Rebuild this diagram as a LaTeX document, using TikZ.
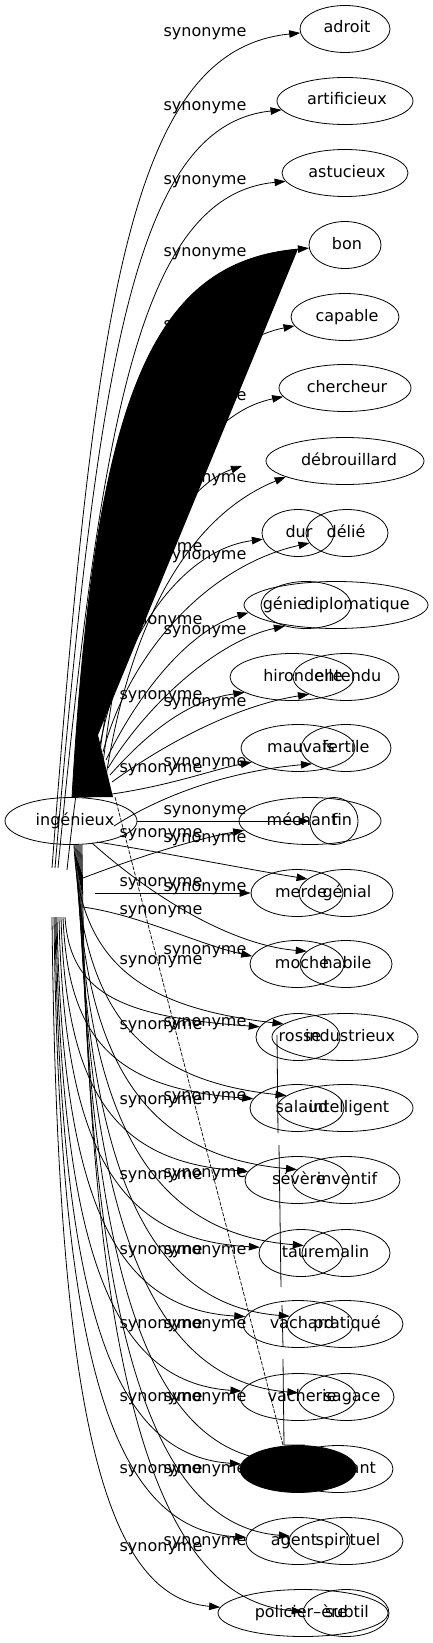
\documentclass[tikz,border=0pt]{standalone}
\usepackage{fontspec}
\setmainfont{DejaVu Sans}
\usetikzlibrary{arrows.meta,shapes.geometric}
\newcommand\gfont{\fontsize{16pt}{19pt}\selectfont}
\tikzset{
  ell/.style={draw,ellipse,inner sep=0pt,line width=0.8pt,minimum height=47pt},
  lbl/.style={inner sep=0pt,font=\gfont,text height=11.5pt,text depth=3.5pt},
  edge/.style={draw,line width=0.8pt,-{Triangle[length=11pt,width=7.5pt]}},
  plain/.style={draw,line width=0.8pt},
}
\newcommand\gnode[6]{%
  \node[ell,minimum width=#4pt] (#1) at (#2,#3) {};
  \node[lbl] (#1t) at (#5,#3) {#6};}
\begin{document}
\begin{tikzpicture}[x=1pt,y=-1pt]
\useasboundingbox (0,0) rectangle (433,1643);
% ---------- labels (drawn under the black band) ----------
\foreach \lx/\ly [count=\i] in {205/33,205/107,205/180,205/252,205/325,205/396,205/478,
  161/547,205/555,161/620,205/630,161/695,205/702,161/768,205/762,
  205/810,161/833,205/838,161/882,205/887,161/910,205/950,161/960,
  161/1025,205/1022,161/1100,205/1096,161/1175,205/1173,161/1250,205/1250,
  161/1324,205/1324,161/1397,205/1397,161/1469,205/1469,161/1547,205/1541}
  \node[lbl] (lab\i) at (\lx,\ly) {synonyme};
% ---------- nodes ----------
\gnode{ing}{71}{821}{132}{75}{ingénieux}
\gnode{adroit}{345}{29}{90}{347}{adroit}
\gnode{artificieux}{345}{101}{136}{347}{artificieux}
\gnode{astucieux}{345}{173}{126}{347}{astucieux}
\gnode{bon}{345}{245}{72}{347}{bon}
\gnode{capable}{345}{317}{108}{347}{capable}
\gnode{chercheur}{345}{388}{132}{347}{chercheur}
\gnode{debrouillard}{345}{461}{158}{349}{débrouillard}
\gnode{dur}{298}{533}{72}{299}{dur}
\gnode{delie}{347}{533}{82}{346}{délié}
\gnode{diplomatique}{336}{605}{184}{357}{diplomatique}
\gnode{genie}{306}{605}{90}{285}{génie}
\gnode{hirondelle}{292}{677}{124}{303}{hirondelle}
\gnode{entendu}{346}{677}{106}{348}{entendu}
\gnode{mauvais}{298}{748}{114}{301}{mauvais}
\gnode{fertile}{346}{748}{90}{346}{fertile}
\gnode{mechant}{310}{821}{142}{302}{méchant}
\gnode{fin}{334}{821}{48}{342}{fin}
\gnode{merde}{297}{893}{92}{301}{merde}
\gnode{genial}{346}{893}{94}{347}{génial}
\gnode{moche}{297}{964}{94}{302}{moche}
\gnode{habile}{346}{964}{92}{347}{habile}
\gnode{rosse}{298}{1037}{84}{300}{rosse}
\gnode{industrieux}{345}{1037}{146}{350}{industrieux}
\gnode{salaud}{297}{1108}{94}{302}{salaud}
\gnode{intelligent}{345}{1108}{136}{349}{intelligent}
\gnode{severe}{297}{1180}{104}{299}{sévère}
\gnode{inventif}{346}{1180}{108}{347}{inventif}
\gnode{taure}{301}{1253}{84}{303}{taure}
\gnode{malin}{346}{1253}{88}{347}{malin}
\gnode{vachard}{298}{1324}{110}{302}{vachard}
\gnode{pratique}{345}{1324}{116}{347}{pratiqué}
\gnode{vacherie}{298}{1397}{116}{302}{vacherie}
\gnode{sagace}{346}{1397}{96}{352}{sagace}
\gnode{savant}{338}{1469}{110}{349}{savant}
\node[ell,fill=black,minimum width=116pt] (noir) at (298,1469) {};
\gnode{agent}{298}{1541}{104}{294}{agent}
\gnode{spirituel}{346}{1541}{114}{348}{spirituel}
\gnode{policier}{303}{1613}{170}{301}{policier–ère}
\gnode{subtil}{346}{1613}{86}{347}{subtil}
% ---------- free ends ----------
\coordinate (s1) at (52,868);
\coordinate (s2) at (55,868);
\coordinate (s3) at (58,868);
\coordinate (s4) at (72,797);
\coordinate (s5) at (67,870);
\coordinate (s6) at (100,790);
\coordinate (s7) at (104,790);
\coordinate (sx) at (96,790);
\coordinate (xa) at (242,466);
\coordinate (s12) at (83,878);
\coordinate (s13) at (95,893);
\coordinate (s14) at (83,907);
\coordinate (d1) at (115,797);
\coordinate (d2) at (283,1445);
% ---------- top edges ----------
\draw[edge] (s1) .. controls (95,300) and (130,50) .. (adroit.185);
\draw[edge] (s2) .. controls (98,360) and (135,125) .. (artificieux.188);
\draw[edge] (s3) .. controls (101,420) and (140,195) .. (astucieux.188);
\draw[edge] (s5) .. controls (100,560) and (170,350) .. (capable.190);
\draw[edge] (s6) .. controls (120,600) and (170,420) .. (chercheur.188);
\draw[edge] (s7) .. controls (125,640) and (180,520) .. (debrouillard.195);
\draw[edge] (sx) .. controls (110,620) and (170,490) .. (xa);
% black band of the edge to "bon"
\fill (s4) .. controls (95,400) and (150,262) .. (298,249) -- (98,735) -- (113,797) -- cycle;
\draw[edge] (s4) .. controls (95,400) and (150,262) .. (bon.185);
% ---------- middle edges ----------
\draw[edge] (100,745) .. controls (120,640) and (180,550) .. (dur.190);
\draw[edge] (103,752) .. controls (130,650) and (210,565) .. (delie.195);
\draw[edge] (106,760) .. controls (140,690) and (190,630) .. (diplomatique.185);
\draw[edge] (108,768) .. controls (150,700) and (220,640) .. (genie.225);
\draw[edge] (110,775) .. controls (150,730) and (190,700) .. (hirondelle.198);
\draw[edge] (112,782) .. controls (170,740) and (240,705) .. (entendu.205);
\draw[edge] (ing.62) .. controls (160,790) and (210,770) .. (mauvais.197);
\draw[edge] (114,826) .. controls (170,790) and (240,770) .. (fertile.205);
\draw[edge] (ing.east) -- (fin.west);
\draw[edge] (s12) .. controls (130,860) and (190,840) .. (mechant.188);
\draw[edge] (s13) -- (merde.west);
\draw[edge] (97,842) .. controls (150,850) and (240,868) .. (genial.160);
\draw[edge] (s14) .. controls (140,915) and (200,945) .. (moche.170);
\draw[edge] (92,843) .. controls (150,895) and (230,945) .. (habile.162);
% ---------- lower edges, right column ----------
\draw[edge] (74,845) .. controls (79,967) and (147,1008) .. (industrieux.168);
\draw[edge] (75,845) .. controls (80,1019) and (148,1081) .. (intelligent.168);
\draw[edge] (76,845) .. controls (81,1071) and (150,1156) .. (inventif.168);
\draw[edge] (77,845) .. controls (82,1125) and (152,1233) .. (malin.170);
\draw[edge] (78,845) .. controls (83,1175) and (150,1305) .. (pratique.172);
\draw[edge] (79,845) .. controls (84,1229) and (154,1381) .. (sagace.175);
\draw[edge] (80,845) .. controls (85,1277) and (151,1450) .. (savant.172);
\draw[edge] (81,845) .. controls (86,1329) and (151,1525) .. (spirituel.175);
\draw[edge] (82,845) .. controls (87,1382) and (157,1600) .. (subtil.178);
% ---------- lower edges, left column ----------
\draw[edge] (65,917) .. controls (70,993) and (120,1017) .. (rosse.165);
\draw[edge] (63,917) .. controls (68,1043) and (118,1089) .. (salaud.168);
\draw[edge] (61,917) .. controls (66,1094) and (116,1162) .. (severe.170);
\draw[edge] (59,917) .. controls (64,1149) and (117,1240) .. (taure.172);
\draw[edge] (57,917) .. controls (62,1197) and (113,1309) .. (vachard.172);
\draw[edge] (56,917) .. controls (61,1248) and (110,1382) .. (vacherie.174);
\draw[edge] (55,917) .. controls (60,1299) and (110,1455) .. (noir.175);
\draw[edge] (54,917) .. controls (59,1351) and (109,1529) .. (agent.176);
\draw[edge] (52,917) .. controls (57,1399) and (100,1597) .. (policier.176);
% ---------- stray lines ----------
\draw[line width=0.7pt,dash pattern=on 4pt off 1.5pt] (d1) -- (d2);
\draw[plain] (277,1035) -- (278,1133) (279,1145) -- (281,1287)
  (282,1305) -- (283,1347) (283,1359) -- (284,1445) -- (305,1445);
\end{tikzpicture}
\end{document}
